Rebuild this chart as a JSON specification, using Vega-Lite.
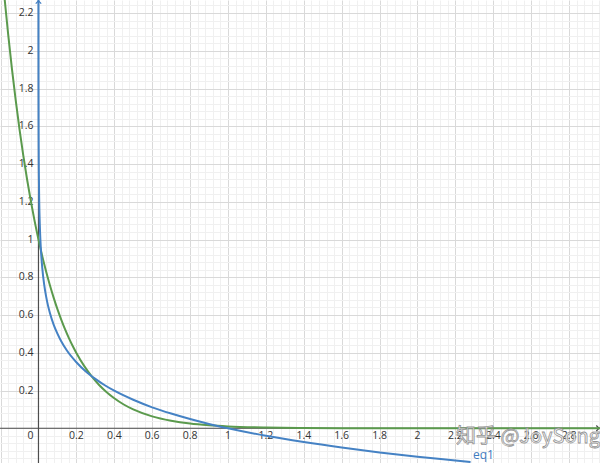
{
  "$schema": "https://vega.github.io/schema/vega-lite/v6.json",
  "width": 600,
  "height": 463,
  "padding": 0,
  "autosize": {"type": "none"},
  "background": "white",
  "config": {"view": {"stroke": null}, "font": "Open Sans"},
  "datasets": {
    "curves": [
      {"series": "green", "x": -0.2, "y": 2.509},
      {"series": "green", "x": -0.18, "y": 2.289},
      {"series": "green", "x": -0.16, "y": 2.088},
      {"series": "green", "x": -0.14, "y": 1.904},
      {"series": "green", "x": -0.12, "y": 1.737},
      {"series": "green", "x": -0.1, "y": 1.584},
      {"series": "green", "x": -0.08, "y": 1.445},
      {"series": "green", "x": -0.06, "y": 1.318},
      {"series": "green", "x": -0.04, "y": 1.202},
      {"series": "green", "x": -0.02, "y": 1.096},
      {"series": "green", "x": 0, "y": 1.0},
      {"series": "green", "x": 0.02, "y": 0.912},
      {"series": "green", "x": 0.04, "y": 0.832},
      {"series": "green", "x": 0.06, "y": 0.759},
      {"series": "green", "x": 0.08, "y": 0.692},
      {"series": "green", "x": 0.1, "y": 0.631},
      {"series": "green", "x": 0.12, "y": 0.576},
      {"series": "green", "x": 0.14, "y": 0.525},
      {"series": "green", "x": 0.16, "y": 0.479},
      {"series": "green", "x": 0.18, "y": 0.437},
      {"series": "green", "x": 0.2, "y": 0.399},
      {"series": "green", "x": 0.24, "y": 0.332},
      {"series": "green", "x": 0.28, "y": 0.276},
      {"series": "green", "x": 0.32, "y": 0.229},
      {"series": "green", "x": 0.36, "y": 0.191},
      {"series": "green", "x": 0.4, "y": 0.159},
      {"series": "green", "x": 0.45, "y": 0.126},
      {"series": "green", "x": 0.5, "y": 0.1},
      {"series": "green", "x": 0.6, "y": 0.063},
      {"series": "green", "x": 0.7, "y": 0.04},
      {"series": "green", "x": 0.8, "y": 0.025},
      {"series": "green", "x": 0.9, "y": 0.016},
      {"series": "green", "x": 1.0, "y": 0.01},
      {"series": "green", "x": 1.2, "y": 0.004},
      {"series": "green", "x": 1.4, "y": 0.0016},
      {"series": "green", "x": 1.6, "y": 0.0006},
      {"series": "green", "x": 2.0, "y": 0.0001},
      {"series": "green", "x": 2.5, "y": 0.0},
      {"series": "green", "x": 2.97, "y": 0.0},
      {"series": "blue", "x": 0.00003, "y": 2.27},
      {"series": "blue", "x": 0.0001, "y": 2.002},
      {"series": "blue", "x": 0.0003, "y": 1.764},
      {"series": "blue", "x": 0.001, "y": 1.502},
      {"series": "blue", "x": 0.002, "y": 1.351},
      {"series": "blue", "x": 0.004, "y": 1.2},
      {"series": "blue", "x": 0.007, "y": 1.079},
      {"series": "blue", "x": 0.01, "y": 1.001},
      {"series": "blue", "x": 0.015, "y": 0.913},
      {"series": "blue", "x": 0.02, "y": 0.85},
      {"series": "blue", "x": 0.03, "y": 0.762},
      {"series": "blue", "x": 0.04, "y": 0.7},
      {"series": "blue", "x": 0.05, "y": 0.651},
      {"series": "blue", "x": 0.06, "y": 0.612},
      {"series": "blue", "x": 0.08, "y": 0.549},
      {"series": "blue", "x": 0.1, "y": 0.501},
      {"series": "blue", "x": 0.12, "y": 0.461},
      {"series": "blue", "x": 0.15, "y": 0.412},
      {"series": "blue", "x": 0.2, "y": 0.35},
      {"series": "blue", "x": 0.25, "y": 0.301},
      {"series": "blue", "x": 0.3, "y": 0.262},
      {"series": "blue", "x": 0.35, "y": 0.228},
      {"series": "blue", "x": 0.4, "y": 0.199},
      {"series": "blue", "x": 0.5, "y": 0.151},
      {"series": "blue", "x": 0.6, "y": 0.111},
      {"series": "blue", "x": 0.7, "y": 0.078},
      {"series": "blue", "x": 0.8, "y": 0.049},
      {"series": "blue", "x": 0.9, "y": 0.023},
      {"series": "blue", "x": 1.0, "y": 0.0},
      {"series": "blue", "x": 1.2, "y": -0.04},
      {"series": "blue", "x": 1.4, "y": -0.073},
      {"series": "blue", "x": 1.6, "y": -0.102},
      {"series": "blue", "x": 1.8, "y": -0.128},
      {"series": "blue", "x": 2.0, "y": -0.151},
      {"series": "blue", "x": 2.2, "y": -0.171},
      {"series": "blue", "x": 2.28, "y": -0.179}
    ],
    "xlabels": [
      {"v": 0.2}, {"v": 0.4}, {"v": 0.6}, {"v": 0.8}, {"v": 1}, {"v": 1.2}, {"v": 1.4},
      {"v": 1.6}, {"v": 1.8}, {"v": 2}, {"v": 2.2}, {"v": 2.4}, {"v": 2.6}, {"v": 2.8}
    ],
    "ylabels": [
      {"v": 0.2}, {"v": 0.4}, {"v": 0.6}, {"v": 0.8}, {"v": 1}, {"v": 1.2},
      {"v": 1.4}, {"v": 1.6}, {"v": 1.8}, {"v": 2}, {"v": 2.2}
    ],
    "origin": [{"x": 0, "y": 0, "t": "0"}],
    "xarrow": [{"x": 2.958, "y": 0}],
    "yarrow": [{"x": 0, "y": 2.264}],
    "notes": [
      {"x": 2.293, "y": -0.141, "t": "eq1"}
    ],
    "mark": [
      {"x": 2.203, "y": -0.046, "t": "知乎 @JoySong"}
    ]
  },
  "layer": [
    {
      "data": {"name": "curves"},
      "mark": {"type": "point", "opacity": 0},
      "encoding": {
        "x": {
          "field": "x", "type": "quantitative",
          "scale": {"domain": [-0.203, 2.963], "nice": false, "zero": false},
          "axis": {
            "values": [-0.16,-0.12,-0.08,-0.04,0.04,0.08,0.12,0.16,0.24,0.28,0.32,0.36,0.44,0.48,0.52,0.56,0.64,0.68,0.72,0.76,0.84,0.88,0.92,0.96,1.04,1.08,1.12,1.16,1.24,1.28,1.32,1.36,1.44,1.48,1.52,1.56,1.64,1.68,1.72,1.76,1.84,1.88,1.92,1.96,2.04,2.08,2.12,2.16,2.24,2.28,2.32,2.36,2.44,2.48,2.52,2.56,2.64,2.68,2.72,2.76,2.84,2.88,2.92,2.96],
            "grid": true, "gridColor": "#f0f0f0", "gridWidth": 1,
            "labels": false, "ticks": false, "domain": false, "title": null
          }
        },
        "y": {
          "field": "y", "type": "quantitative",
          "scale": {"domain": [-0.184, 2.269], "nice": false, "zero": false},
          "axis": {
            "values": [-0.16,-0.12,-0.08,-0.04,0.04,0.08,0.12,0.16,0.24,0.28,0.32,0.36,0.44,0.48,0.52,0.56,0.64,0.68,0.72,0.76,0.84,0.88,0.92,0.96,1.04,1.08,1.12,1.16,1.24,1.28,1.32,1.36,1.44,1.48,1.52,1.56,1.64,1.68,1.72,1.76,1.84,1.88,1.92,1.96,2.04,2.08,2.12,2.16,2.24],
            "grid": true, "gridColor": "#f0f0f0", "gridWidth": 1,
            "labels": false, "ticks": false, "domain": false, "title": null
          }
        }
      }
    },
    {
      "data": {"name": "curves"},
      "mark": {"type": "point", "opacity": 0},
      "encoding": {
        "x": {
          "field": "x", "type": "quantitative",
          "axis": {
            "values": [-0.2,0,0.2,0.4,0.6,0.8,1,1.2,1.4,1.6,1.8,2,2.2,2.4,2.6,2.8],
            "grid": true, "gridColor": "#d9d9d9", "gridWidth": 1,
            "labels": false, "ticks": false, "domain": false, "title": null
          }
        },
        "y": {
          "field": "y", "type": "quantitative",
          "axis": {
            "values": [0,0.2,0.4,0.6,0.8,1,1.2,1.4,1.6,1.8,2,2.2],
            "grid": true, "gridColor": "#d9d9d9", "gridWidth": 1,
            "labels": false, "ticks": false, "domain": false, "title": null
          }
        }
      }
    },
    {
      "data": {"name": "origin"},
      "mark": {"type": "rule", "color": "#4d4d4d", "strokeWidth": 1.2},
      "encoding": {"y": {"field": "y", "type": "quantitative", "axis": null}}
    },
    {
      "data": {"name": "origin"},
      "mark": {"type": "rule", "color": "#4d4d4d", "strokeWidth": 1.2},
      "encoding": {"x": {"field": "x", "type": "quantitative", "axis": null}}
    },
    {
      "data": {"name": "xarrow"},
      "mark": {"type": "point", "shape": "M-1,-1L0,0L-1,1", "filled": false, "size": 30, "stroke": "#4d4d4d", "strokeWidth": 1.2, "opacity": 1},
      "encoding": {
        "x": {"field": "x", "type": "quantitative", "axis": null},
        "y": {"field": "y", "type": "quantitative", "axis": null}
      }
    },
    {
      "data": {"name": "xlabels"},
      "mark": {"type": "text", "align": "center", "baseline": "middle", "dy": 8, "fontSize": 10.5, "color": "#333333"},
      "encoding": {
        "x": {"field": "v", "type": "quantitative", "axis": null},
        "y": {"datum": 0, "type": "quantitative", "axis": null},
        "text": {"field": "v", "format": "~g"}
      }
    },
    {
      "data": {"name": "ylabels"},
      "mark": {"type": "text", "align": "right", "baseline": "middle", "dx": -5, "fontSize": 10.5, "color": "#333333"},
      "encoding": {
        "x": {"datum": 0, "type": "quantitative", "axis": null},
        "y": {"field": "v", "type": "quantitative", "axis": null},
        "text": {"field": "v", "format": "~g"}
      }
    },
    {
      "data": {"name": "origin"},
      "mark": {"type": "text", "align": "right", "baseline": "middle", "dx": -5, "dy": 8, "fontSize": 10.5, "color": "#333333"},
      "encoding": {
        "x": {"field": "x", "type": "quantitative", "axis": null},
        "y": {"field": "y", "type": "quantitative", "axis": null},
        "text": {"field": "t"}
      }
    },
    {
      "data": {"name": "curves"},
      "mark": {"type": "line", "strokeWidth": 2, "clip": true, "interpolate": "monotone"},
      "encoding": {
        "x": {"field": "x", "type": "quantitative", "axis": null},
        "y": {"field": "y", "type": "quantitative", "axis": null},
        "color": {
          "field": "series", "type": "nominal",
          "scale": {"domain": ["blue", "green"], "range": ["#4582c4", "#5b9a4d"]},
          "legend": null
        },
        "order": {"field": "x", "type": "quantitative"}
      }
    },
    {
      "data": {"name": "yarrow"},
      "mark": {"type": "point", "shape": "M-1,1L0,0L1,1", "filled": false, "size": 30, "stroke": "#3f7cc0", "strokeWidth": 1.2, "opacity": 1},
      "encoding": {
        "x": {"field": "x", "type": "quantitative", "axis": null},
        "y": {"field": "y", "type": "quantitative", "axis": null}
      }
    },
    {
      "data": {"name": "notes"},
      "mark": {"type": "text", "align": "left", "baseline": "middle", "fontSize": 12, "color": "#3f7cc0"},
      "encoding": {
        "x": {"field": "x", "type": "quantitative", "axis": null},
        "y": {"field": "y", "type": "quantitative", "axis": null},
        "text": {"field": "t"}
      }
    },
    {
      "data": {"name": "mark"},
      "mark": {"type": "text", "align": "left", "baseline": "middle", "fontSize": 20, "font": "Noto Sans CJK SC", "fill": "white", "stroke": "#8a8a8a", "strokeWidth": 0.8, "opacity": 0.9},
      "encoding": {
        "x": {"field": "x", "type": "quantitative", "axis": null},
        "y": {"field": "y", "type": "quantitative", "axis": null},
        "text": {"field": "t"}
      }
    }
  ],
  "resolve": {"axis": {"x": "independent", "y": "independent"}}
}
